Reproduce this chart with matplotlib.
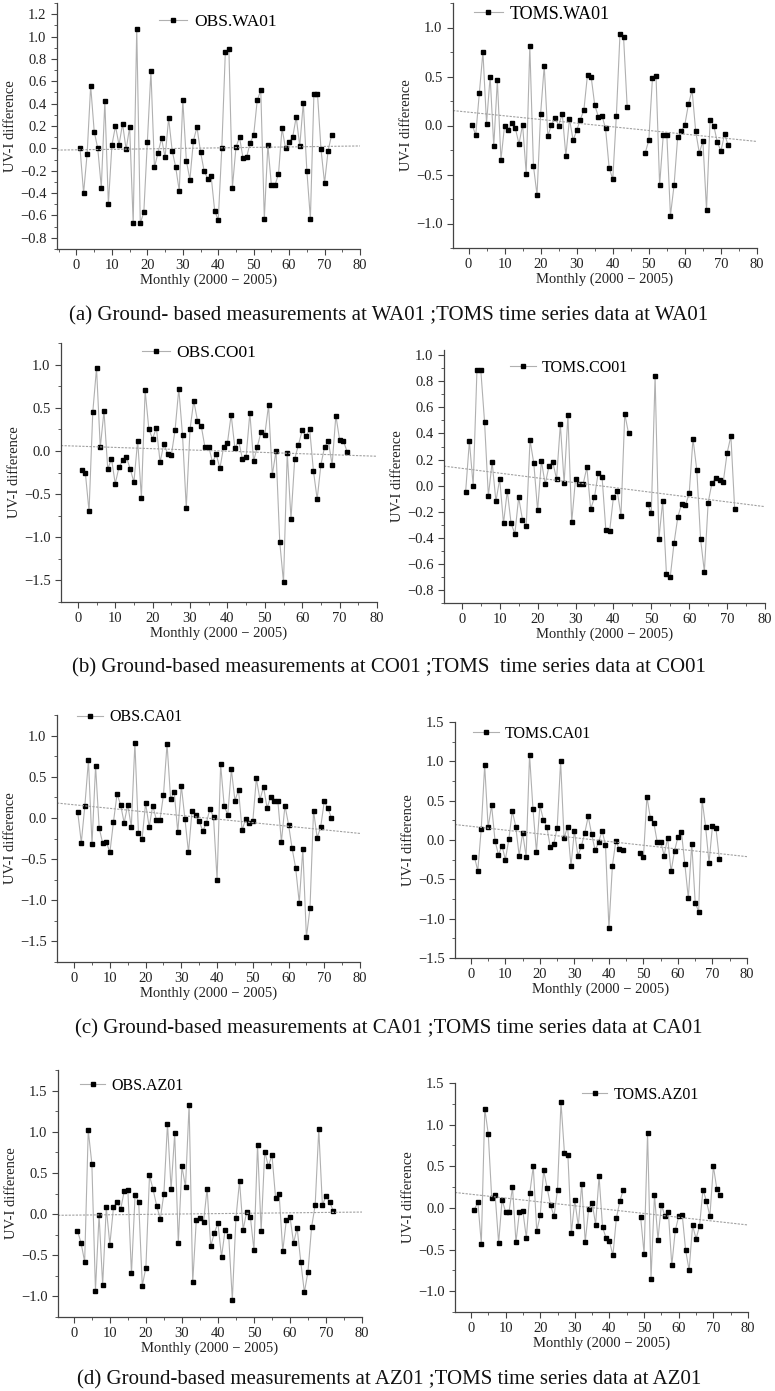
import numpy as np
import matplotlib
matplotlib.use("Agg")
import matplotlib.pyplot as plt
from matplotlib.ticker import MultipleLocator

nan = np.nan
plt.rcParams['font.family'] = ['Liberation Serif', 'DejaVu Serif']

months = np.arange(1, 73)

obs_wa01 = [0.00, -0.40, -0.05, 0.56, 0.15, 0.00, -0.35, 0.42, -0.50, 0.03,
            0.20, 0.03, 0.22, -0.01, 0.19, -0.67, 1.07, -0.67, -0.57, 0.06,
            0.69, -0.17, -0.04, 0.09, -0.08, 0.27, -0.02, -0.17, -0.38, 0.43,
            -0.11, -0.28, 0.07, 0.19, -0.03, -0.20, -0.27, -0.25, -0.56, -0.64,
            0.00, 0.86, 0.89, -0.35, 0.01, 0.10, -0.09, -0.08, 0.05, 0.12,
            0.43, 0.52, -0.63, 0.03, -0.33, -0.33, -0.23, 0.18, 0.00, 0.06,
            0.10, 0.28, 0.02, 0.41, -0.20, -0.63, 0.49, 0.49, -0.01, -0.31,
            -0.02, 0.12]
toms_wa01 = [0.01, -0.10, 0.33, 0.75, 0.02, 0.50, -0.21, 0.46, -0.35, 0.00,
             -0.05, 0.03, -0.03, -0.19, 0.01, -0.49, 0.81, -0.41, -0.71, 0.12,
             0.61, -0.11, 0.01, 0.08, 0.00, 0.12, -0.31, 0.07, -0.15, -0.05,
             0.06, 0.16, 0.52, 0.50, 0.21, 0.09, 0.10, -0.03, -0.43, -0.55,
             0.10, 0.93, 0.90, 0.19, nan, nan, nan, nan, -0.28, -0.15,
             0.48, 0.51, -0.61, -0.10, -0.10, -0.92, -0.61, -0.12, -0.06, 0.01,
             0.22, 0.36, -0.06, -0.28, -0.16, -0.86, 0.06, 0.00, -0.17, -0.26,
             -0.09, -0.20]
obs_co01 = [-0.22, -0.25, -0.70, 0.45, 0.96, 0.04, 0.46, -0.21, -0.09, -0.38,
            -0.19, -0.11, -0.07, -0.21, -0.36, 0.12, -0.54, 0.70, 0.25, 0.14,
            0.27, -0.13, 0.08, -0.03, -0.05, 0.24, 0.72, 0.18, -0.66, 0.25,
            0.58, 0.35, 0.29, 0.04, 0.05, -0.13, -0.04, -0.20, 0.05, 0.09,
            0.42, 0.03, 0.12, -0.09, -0.07, 0.44, -0.12, 0.05, 0.22, 0.19,
            0.53, -0.28, 0.00, -1.06, -1.52, -0.02, -0.79, -0.09, 0.07, 0.24,
            0.17, 0.25, -0.23, -0.56, -0.16, 0.05, 0.11, -0.16, 0.41, 0.13,
            0.12, -0.01]
toms_co01 = [-0.05, 0.34, 0.00, 0.89, 0.89, 0.49, -0.08, 0.18, -0.12, 0.05,
             -0.29, -0.04, -0.29, -0.37, -0.09, -0.26, -0.31, 0.35, 0.17, -0.19,
             0.19, 0.01, 0.15, 0.18, 0.05, 0.47, 0.02, 0.54, -0.28, 0.05,
             0.01, 0.01, 0.14, -0.18, -0.09, 0.10, 0.07, -0.34, -0.35, -0.09,
             -0.04, -0.23, 0.55, 0.40, nan, nan, nan, nan, -0.14, -0.21,
             0.84, -0.41, -0.12, -0.68, -0.70, -0.44, -0.24, -0.14, -0.15, -0.06,
             0.36, 0.12, -0.41, -0.66, -0.13, 0.02, 0.06, 0.04, 0.03, 0.25,
             0.38, -0.18]
obs_ca01 = [0.07, -0.30, 0.15, 0.70, -0.32, 0.63, -0.12, -0.31, -0.29, -0.42,
            -0.05, 0.29, 0.16, -0.06, 0.16, -0.11, 0.91, -0.18, -0.26, 0.18,
            -0.11, 0.15, -0.02, -0.03, 0.28, 0.90, 0.23, 0.32, -0.17, 0.39,
            -0.01, -0.42, 0.09, 0.03, -0.04, -0.16, -0.06, 0.11, 0.01, -0.75,
            0.65, 0.14, 0.04, 0.59, 0.21, 0.34, -0.15, -0.01, -0.06, -0.04,
            0.48, 0.22, 0.38, 0.12, 0.26, 0.21, 0.21, -0.29, 0.15, -0.08,
            -0.37, -0.61, -1.03, -0.38, -1.45, -1.10, 0.09, -0.24, -0.11, 0.20,
            0.12, 0.00]
toms_ca01 = [-0.21, -0.39, 0.14, 0.95, 0.16, 0.44, -0.01, -0.19, -0.07, -0.25,
             0.01, 0.37, 0.17, -0.20, 0.09, -0.21, 1.08, 0.39, -0.15, 0.44,
             0.26, 0.17, -0.09, -0.05, 0.15, 1.00, 0.02, 0.17, -0.33, 0.12,
             -0.20, -0.08, 0.09, 0.30, 0.07, -0.13, -0.03, 0.12, -0.06, -1.12,
             -0.33, -0.01, -0.12, -0.13, nan, nan, nan, nan, -0.17, -0.22,
             0.55, 0.28, 0.22, -0.03, -0.02, -0.20, 0.03, -0.40, -0.14, 0.04,
             0.10, -0.31, -0.74, -0.05, -0.80, -0.91, 0.51, 0.17, -0.29, 0.18,
             0.15, -0.24]
obs_az01 = [-0.20, -0.35, -0.58, 1.02, 0.61, -0.93, -0.01, -0.86, 0.08, -0.37,
            0.08, 0.15, 0.06, 0.28, 0.29, -0.72, 0.23, 0.15, -0.87, -0.65,
            0.47, 0.30, 0.10, -0.06, 0.25, 1.10, 0.30, 0.98, -0.35, 0.58,
            0.33, 1.33, -0.83, -0.07, -0.05, -0.10, 0.31, -0.39, -0.23, -0.11,
            -0.52, -0.19, -0.27, -1.04, -0.05, 0.40, -0.19, 0.03, -0.03, -0.44,
            0.84, -0.20, 0.76, 0.58, 0.72, 0.20, 0.24, -0.45, -0.07, -0.03,
            -0.35, -0.17, -0.58, -0.95, -0.70, -0.16, 0.11, 1.03, 0.11, 0.22,
            0.15, 0.04]
toms_az01 = [-0.02, 0.07, -0.43, 1.19, 0.89, 0.12, 0.15, -0.42, 0.10, -0.05,
             -0.05, 0.25, -0.41, -0.05, -0.04, -0.36, 0.18, 0.50, -0.28, -0.09,
             0.45, 0.24, 0.03, -0.10, 0.22, 1.27, 0.66, 0.63, -0.30, 0.09,
             -0.22, 0.29, -0.41, -0.01, 0.06, -0.20, 0.38, -0.23, -0.36, -0.40,
             -0.57, -0.12, 0.08, 0.22, nan, nan, nan, nan, -0.11, -0.55,
             0.90, -0.85, 0.16, -0.38, 0.04, -0.10, -0.05, -0.69, -0.27, -0.10,
             -0.08, -0.51, -0.75, -0.21, -0.37, -0.22, 0.22, 0.08, -0.10, 0.50,
             0.23, 0.15]

captions = [
    "(a) Ground- based measurements at WA01 ;TOMS time series data at WA01",
    "(b) Ground-based measurements at CO01 ;TOMS  time series data at CO01",
    "(c) Ground-based measurements at CA01 ;TOMS time series data at CA01",
    "(d) Ground-based measurements at AZ01 ;TOMS time series data at AZ01",
]

W, H = 775, 1391
fig = plt.figure(figsize=(W / 100, H / 100), dpi=100)

# (series, legend label, pixel box l r t b, ylim, major step, legend x y, legend size, xmin)
panels = [
    (obs_wa01, "OBS.WA01", (57, 360, 3, 249), (-0.9, 1.3), 0.2, (0.337, 0.923), 12.5, -5.5),
    (toms_wa01, "TOMS.WA01", (453, 757, 3, 248), (-1.25, 1.25), 0.5, (0.069, 0.955), 13, -4.3),
    (obs_co01, "OBS.CO01", (61, 377, 343, 602), (-1.75, 1.25), 0.5, (0.256, 0.961), 12.5, -4.5),
    (toms_co01, "TOMS.CO01", (444, 765, 350, 603), (-0.9, 1.04), 0.2, (0.206, 0.929), 11.5, -4.7),
    (obs_ca01, "OBS.CA01", (57, 360, 715, 962), (-1.75, 1.25), 0.5, (0.066, 0.99), 11.5, -4.8),
    (toms_ca01, "TOMS.CA01", (455, 747, 722, 958), (-1.5, 1.5), 0.5, (0.062, 0.949), 11.5, -4.6),
    (obs_az01, "OBS.AZ01", (58, 362, 1070, 1317), (-1.25, 1.75), 0.5, (0.072, 0.935), 11.5, -4.4),
    (toms_az01, "TOMS.AZ01", (455, 748, 1083, 1312), (-1.25, 1.5), 0.5, (0.433, 0.948), 11.5, -4.6),
]

for series, label, box, ylim, step, legpos, legsize, xmin in panels:
    l, r, t, b = box
    ax = fig.add_axes([l / W, 1 - b / H, (r - l) / W, (b - t) / H])
    y = np.array(series, dtype=float)
    ax.plot(months, y, color="#b0b0b0", lw=0.8, marker="s", ms=3.4,
            mfc="black", mec="black", label=label)
    ok = ~np.isnan(y)
    k, c = np.polyfit(months[ok], y[ok], 1)
    xt = np.array([xmin, 80])
    ax.plot(xt, k * xt + c, color="#a0a0a0", lw=0.8, ls=(0, (2, 1.2)))
    ax.set_xlim(xmin, 80)
    ax.set_ylim(*ylim)
    ax.xaxis.set_major_locator(MultipleLocator(10))
    ax.xaxis.set_minor_locator(MultipleLocator(5))
    ax.yaxis.set_major_locator(MultipleLocator(step))
    ax.yaxis.set_minor_locator(MultipleLocator(step / 2))
    ax.yaxis.set_major_formatter(lambda v, p: f"{v:.1f}".replace("-", "\u2212"))
    for s in ("top", "right"):
        ax.spines[s].set_visible(False)
    for s in ("left", "bottom"):
        ax.spines[s].set_color("#444444")
        ax.spines[s].set_linewidth(0.9)
    ax.tick_params(which="both", direction="out", colors="#444444", labelcolor="#222222",
                   labelsize=10.5)
    ax.tick_params(which="major", length=4)
    ax.tick_params(which="minor", length=2)
    ax.set_xlabel("Monthly (2000 \u2212 2005)", fontsize=10.5, color="#222222", labelpad=1)
    ax.set_ylabel("UV-I difference", fontsize=10.5, color="#222222", labelpad=2)
    ax.legend(loc="center left", bbox_to_anchor=legpos, frameon=False, fontsize=legsize,
              handlelength=1.6, handletextpad=0.4, borderpad=0, borderaxespad=0,
              numpoints=1)

for text, yc in zip(captions, (316, 668, 1029, 1380)):
    fig.text(389 / W, 1 - yc / H, text, ha="center", va="center", fontsize=15,
             color="#111111")

fig.savefig("out.png", dpi=100)
